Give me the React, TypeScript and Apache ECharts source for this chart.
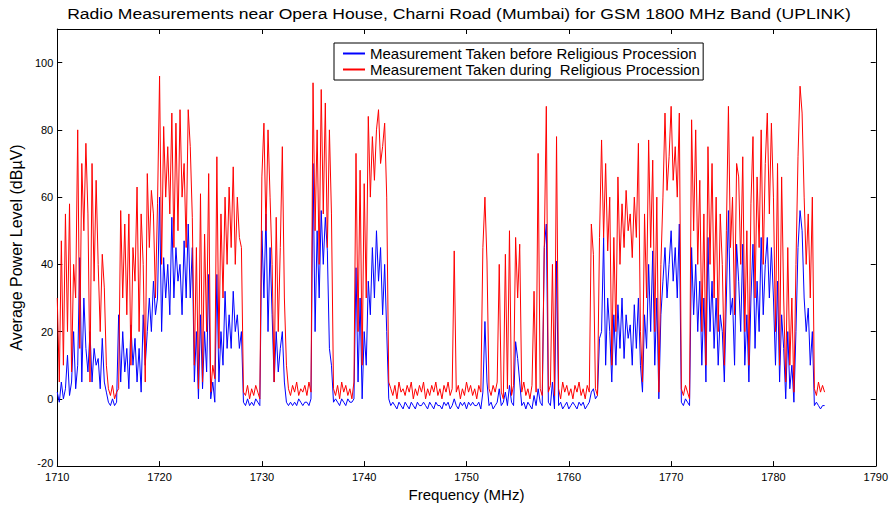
import { useEffect, useRef } from "react";
import * as echarts from "echarts";

const TITLE =
  "Radio Measurements near Opera House, Charni Road (Mumbai) for GSM 1800 MHz Band (UPLINK)";
const SERIES_BEFORE = "Measurement Taken before Religious Procession";
const SERIES_DURING = "Measurement Taken during  Religious Procession";

const FREQ_START = 1710; // MHz, first sample
const FREQ_STEP = 0.2; // MHz between samples

// Red: during procession (dBµV), one row per MHz (5 samples)
const duringPower: number[] = [
  30, 5, 47, 10, 55, // 1710
  20, 58, 8, 40, 30, // 1711
  80, 15, 70, 50, 76, // 1712
  55, 5, 70, 35, 65, // 1713
  40, 20, 43, 33, 10, // 1714
  3, 1, 4, 0, 2, // 1715
  3, 56, 30, 52, 25, // 1716
  55, 10, 45, 35, 63, // 1717
  20, 55, 40, 5, 67, // 1718
  45, 62, 55, 30, 58, // 1719
  96, 40, 81, 60, 75, // 1720
  55, 85, 45, 82, 50, // 1721
  86, 60, 70, 45, 86, // 1722
  75, 54, 10, 45, 3, // 1723
  61, 5, 49, 20, 67, // 1724
  2, 10, 6, 72, 15, // 1725
  55, 30, 60, 40, 63, // 1726
  45, 69, 40, 60, 48, // 1727
  45, 2, 1, 4, 0, // 1728
  3, 1, 4, 2, 0, // 1729
  66, 82, 50, 80, 60, // 1730
  40, 5, 54, 20, 45, // 1731
  75, 30, 10, 3, 1, // 1732
  4, 2, 5, 1, 3, // 1733
  2, 4, 1, 5, 2, // 1734
  94, 50, 80, 40, 92, // 1735
  55, 88, 45, 80, 55, // 1736
  3, 1, 4, 0, 5, // 1737
  2, 4, 1, 3, 0, // 1738
  5, 73, 20, 68, 10, // 1739
  64, 30, 84, 60, 78, // 1740
  65, 80, 86, 70, 75, // 1741
  82, 60, 5, 3, 1, // 1742
  4, 0, 5, 2, 3, // 1743
  1, 4, 2, 5, 0, // 1744
  3, 1, 4, 2, 5, // 1745
  0, 3, 1, 4, 2, // 1746
  5, 1, 3, 0, 4, // 1747
  2, 5, 1, 3, 44, // 1748
  2, 4, 0, 3, 1, // 1749
  5, 2, 4, 1, 3, // 1750
  0, 4, 2, 45, 60, // 1751
  41, 3, 1, 4, 2, // 1752
  5, 40, 2, 0, 43, // 1753
  3, 50, 1, 4, 48, // 1754
  30, 46, 2, 5, 1, // 1755
  3, 0, 4, 32, 2, // 1756
  73, 3, 1, 45, 87, // 1757
  2, 4, 40, 1, 78, // 1758
  3, 0, 5, 2, 4, // 1759
  1, 3, 0, 4, 2, // 1760
  5, 1, 3, 0, 4, // 1761
  2, 52, 43, 3, 1, // 1762
  48, 77, 48, 70, 44, // 1763
  60, 10, 48, 20, 66, // 1764
  40, 58, 45, 62, 50, // 1765
  55, 42, 60, 48, 76, // 1766
  20, 5, 55, 30, 77, // 1767
  45, 71, 20, 60, 2, // 1768
  40, 60, 85, 62, 72, // 1769
  87, 65, 75, 60, 85, // 1770
  3, 1, 4, 2, 0, // 1771
  83, 50, 80, 40, 65, // 1772
  20, 55, 10, 75, 40, // 1773
  70, 30, 60, 20, 55, // 1774
  40, 10, 50, 87, 45, // 1775
  60, 25, 70, 66, 40, // 1776
  72, 20, 50, 10, 58, // 1777
  78, 30, 66, 45, 80, // 1778
  40, 70, 85, 55, 82, // 1779
  60, 20, 70, 10, 66, // 1780
  30, 5, 45, 10, 30, // 1781
  2, 40, 72, 93, 85, // 1782
  60, 40, 55, 30, 60, // 1783
  3, 1, 5, 2, 4, // 1784
  2, // 1785
];

// Blue: before procession (dBµV), one row per MHz (5 samples)
const beforePower: number[] = [
  2, -1, 5, 0, 3, // 1710
  13, 1, 5, 20, 3, // 1711
  10, 42, 5, 30, 15, // 1712
  8, 20, 5, 15, 10, // 1713
  12, 3, 18, 5, 2, // 1714
  -1, -2, 0, -2, -1, // 1715
  25, 5, 20, 8, 15, // 1716
  3, 22, 10, 18, 5, // 1717
  15, 2, 25, 10, 20, // 1718
  30, 20, 35, 25, 30, // 1719
  60, 20, 42, 30, 40, // 1720
  25, 54, 30, 45, 35, // 1721
  40, 25, 47, 30, 52, // 1722
  30, 45, 5, 20, 0, // 1723
  25, 3, 20, 8, 37, // 1724
  0, 5, -1, 37, 5, // 1725
  20, 10, 32, 15, 25, // 1726
  15, 32, 20, 25, 15, // 1727
  20, -1, -2, 0, -2, // 1728
  -1, -2, 0, -1, -2, // 1729
  50, 30, 55, 20, 45, // 1730
  25, 5, 20, 8, 15, // 1731
  20, 5, -1, -2, -1, // 1732
  -2, -1, -2, 0, -1, // 1733
  -2, -1, -1, -2, 0, // 1734
  70, 20, 50, 30, 56, // 1735
  40, 54, 44, 15, 10, // 1736
  -1, 0, -1, -2, 0, // 1737
  -1, -2, 0, -1, -1, // 1738
  0, 39, 5, 30, 0, // 1739
  20, 10, 35, 25, 45, // 1740
  30, 50, 35, 45, 25, // 1741
  40, 20, 0, -2, -1, // 1742
  -2, -3, -1, -2, -3, // 1743
  -1, -2, -3, -1, -2, // 1744
  -3, -1, -2, -2, -1, // 1745
  -2, -3, -1, -2, -3, // 1746
  -1, -2, -2, -3, -1, // 1747
  -2, -1, -3, -2, 0, // 1748
  -2, -3, -1, -2, -1, // 1749
  -3, -1, -2, -1, -2, // 1750
  -2, -1, -3, 2, 23, // 1751
  5, -2, -1, -3, -2, // 1752
  -1, 3, -2, -1, 2, // 1753
  -2, 4, -1, -2, 17, // 1754
  12, 5, -2, -1, -3, // 1755
  -1, -2, -3, 1, -2, // 1756
  3, -1, -2, 45, 52, // 1757
  -1, -2, 5, -3, 41, // 1758
  -2, -1, -3, -2, -1, // 1759
  -3, -2, -1, -2, -3, // 1760
  -1, -2, -1, -3, -2, // 1761
  -1, 2, 3, 0, 1, // 1762
  18, 20, 48, 10, 30, // 1763
  20, 5, 25, 10, 28, // 1764
  15, 30, 12, 25, 18, // 1765
  22, 10, 28, 15, 30, // 1766
  10, 2, 25, 15, 40, // 1767
  20, 44, 10, 30, 0, // 1768
  25, 35, 45, 30, 40, // 1769
  50, 35, 45, 30, 52, // 1770
  -1, -2, 0, -1, -2, // 1771
  45, 25, 40, 20, 35, // 1772
  10, 30, 5, 48, 20, // 1773
  35, 15, 30, 10, 25, // 1774
  20, 5, 30, 56, 25, // 1775
  30, 10, 46, 35, 20, // 1776
  46, 10, 25, 5, 30, // 1777
  46, 15, 35, 20, 48, // 1778
  25, 40, 48, 30, 45, // 1779
  30, 10, 35, 5, 25, // 1780
  15, 0, 20, 3, 10, // 1781
  -1, 20, 45, 56, 50, // 1782
  30, 20, 27, 10, 20, // 1783
  -2, -1, -2, -3, -2, // 1784
  -2, // 1785
];

const X_MIN = 1710;
const X_MAX = 1790;
const X_INTERVAL = 10;
const Y_MIN = -20;
const Y_MAX = 110;
const Y_INTERVAL = 20;

const FONT = "'Liberation Sans', Arial, Helvetica, sans-serif";

function toPairs(values: number[]): [number, number][] {
  return values.map((v, i) => [
    Math.round((FREQ_START + i * FREQ_STEP) * 10) / 10,
    v,
  ]);
}

export default function App() {
  const ref = useRef<HTMLDivElement>(null);

  useEffect(() => {
    if (!ref.current) return;
    const chart = echarts.init(ref.current, undefined, { renderer: "svg" });

    const axisLine = {
      show: true,
      onZero: false,
      lineStyle: { color: "#000", width: 1 },
    };
    const axisTick = {
      show: true,
      inside: true,
      length: 5,
      lineStyle: { color: "#000", width: 1 },
    };
    const labelStyle = { color: "#000", fontSize: 11, fontFamily: FONT };

    chart.setOption({
      animation: false,
      backgroundColor: "#fff",
      graphic: [
        {
          type: "text",
          x: 459,
          y: 13,
          scaleX: 1.17,
          style: {
            text: TITLE,
            fill: "#000",
            font: `15px ${FONT}`,
            textAlign: "center",
            textVerticalAlign: "middle",
          },
        },
      ],
      grid: { left: 49, right: 15, top: 29, bottom: 35, containLabel: false },
      legend: {
        orient: "vertical",
        left: 334,
        top: 43,
        data: [SERIES_BEFORE, SERIES_DURING],
        backgroundColor: "#fff",
        borderColor: "#000",
        borderWidth: 1,
        borderRadius: 0,
        padding: [3, 3, 3, 8],
        itemGap: 1,
        itemWidth: 22,
        itemHeight: 14,
        itemStyle: { opacity: 0 },
        textStyle: { color: "#000", fontSize: 15, fontFamily: FONT },
      },
      xAxis: [
        {
          type: "value",
          min: X_MIN,
          max: X_MAX,
          interval: X_INTERVAL,
          position: "bottom",
          axisLine,
          axisTick,
          axisLabel: {
            ...labelStyle,
            margin: 5,
            formatter: (v: number) => String(v),
          },
          splitLine: { show: false },
          name: "Frequency (MHz)",
          nameLocation: "middle",
          nameGap: 17,
          nameTextStyle: { color: "#000", fontSize: 15, fontFamily: FONT },
        },
        {
          type: "value",
          min: X_MIN,
          max: X_MAX,
          interval: X_INTERVAL,
          position: "top",
          axisLine,
          axisTick,
          axisLabel: { show: false },
          splitLine: { show: false },
        },
      ],
      yAxis: [
        {
          type: "value",
          min: Y_MIN,
          max: Y_MAX,
          interval: Y_INTERVAL,
          position: "left",
          axisLine,
          axisTick,
          axisLabel: {
            ...labelStyle,
            margin: 4,
            formatter: (v: number) =>
              v === Y_MAX ? "" : v === Y_MIN ? `{lift|${v}}` : String(v),
            rich: {
              lift: {
                color: "#000",
                fontSize: 11,
                fontFamily: FONT,
                padding: [0, 0, 7, 0],
              },
            },
          },
          splitLine: { show: false },
          name: "Average Power Level (dBµV)",
          nameLocation: "middle",
          nameGap: 26,
          nameTextStyle: { color: "#000", fontSize: 16, fontFamily: FONT },
        },
        {
          type: "value",
          min: Y_MIN,
          max: Y_MAX,
          interval: Y_INTERVAL,
          position: "right",
          axisLine,
          axisTick,
          axisLabel: { show: false },
          splitLine: { show: false },
        },
      ],
      series: [
        {
          name: SERIES_BEFORE,
          type: "line",
          xAxisIndex: 0,
          yAxisIndex: 0,
          data: toPairs(beforePower),
          symbol: "none",
          lineStyle: { color: "#0000ff", width: 1 },
          itemStyle: { color: "#0000ff" },
        },
        {
          name: SERIES_DURING,
          type: "line",
          xAxisIndex: 0,
          yAxisIndex: 0,
          data: toPairs(duringPower),
          symbol: "none",
          lineStyle: { color: "#ff0000", width: 1 },
          itemStyle: { color: "#ff0000" },
        },
      ],
    });

    return () => chart.dispose();
  }, []);

  return (
    <div
      ref={ref}
      style={{ position: "fixed", left: 0, top: 0, width: 891, height: 507 }}
    />
  );
}
